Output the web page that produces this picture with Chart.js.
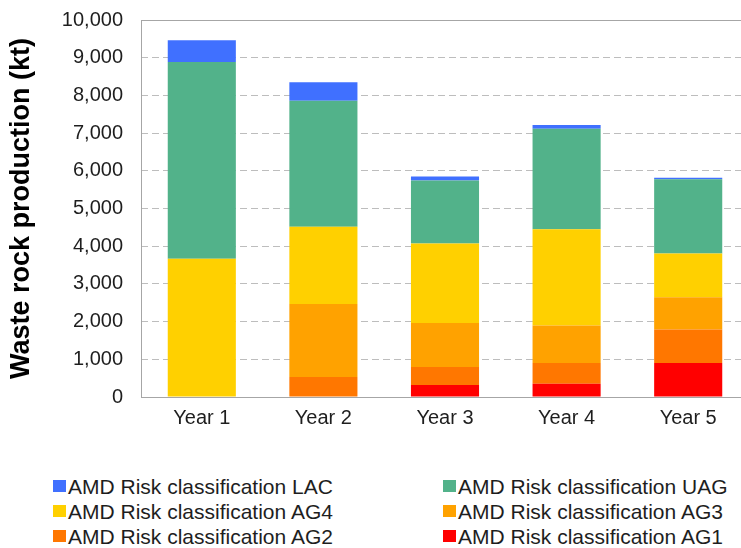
<!DOCTYPE html>
<html>
<head>
<meta charset="utf-8">
<script src="https://cdn.jsdelivr.net/npm/chart.js@4"></script>
<style>
  html, body { margin: 0; padding: 0; background: #fff; overflow: hidden; width: 741px; height: 548px; }
  #wrap { position: absolute; left: 0; top: -10px; width: 760px; height: 450px; }
  #legend { position: absolute; left: 0; top: 474px; width: 741px; font-family: "Liberation Sans", Arial, sans-serif; font-size: 21px; color: #1e1e1e; }
  .item { position: absolute; height: 25px; line-height: 25px; white-space: nowrap; }
  .sw { display: inline-block; width: 13px; height: 12px; margin-right: 2px; vertical-align: middle; position: relative; top: -2px; }
</style>
</head>
<body>
<div id="wrap"><canvas id="c"></canvas></div>
<div id="legend"></div>
<script>
const categories = ['Year 1', 'Year 2', 'Year 3', 'Year 4', 'Year 5'];
const lac = [575, 487, 107, 98, 36];
const uag = [5215, 3345, 1673, 2663, 1973];
const ag4 = [3670, 2045, 2106, 2557, 1159];
const ag3 = [0, 1940, 1168, 991, 858];
const ag2 = [0, 530, 476, 549, 885];
const ag1 = [0, 0, 320, 354, 903];
const yMin = 0, yMax = 10000, yStep = 1000;

const seriesNames = ['AMD Risk classification AG1', 'AMD Risk classification AG2', 'AMD Risk classification AG3',
  'AMD Risk classification AG4', 'AMD Risk classification UAG', 'AMD Risk classification LAC'];
const seriesData = [ag1, ag2, ag3, ag4, uag, lac];
const seriesColors = ['#ff0000', '#ff7700', '#ffa200', '#ffd000', '#52b28a', '#4070ff'];

const datasets = seriesNames.map((n, i) => ({
  label: n, data: seriesData[i], backgroundColor: seriesColors[i],
  borderWidth: 0, categoryPercentage: 1, barPercentage: 0.56
}));

const frame = {
  id: 'frame',
  afterDatasetsDraw(chart) {
    const a = chart.chartArea, ctx = chart.ctx;
    ctx.save();
    ctx.strokeStyle = '#a6a6a6';
    ctx.lineWidth = 1;
    ctx.setLineDash([]);
    ctx.strokeRect(Math.round(a.left) + 0.5, Math.round(a.top) + 0.5, Math.round(a.right - a.left), Math.round(a.bottom - a.top));
    ctx.restore();
  }
};

const font = "'Liberation Sans', Arial, sans-serif";
new Chart(document.getElementById('c'), {
  type: 'bar',
  data: { labels: categories, datasets },
  plugins: [frame],
  options: {
    responsive: true, maintainAspectRatio: false, animation: false,
    layout: { padding: { left: 0, right: 11, top: 8, bottom: 0 } },
    plugins: { legend: { display: false }, tooltip: { enabled: false } },
    scales: {
      x: {
        stacked: true,
        grid: { display: false, drawTicks: false },
        border: { display: false },
        ticks: { color: '#1e1e1e', font: { family: font, size: 20 }, padding: 9 },
        afterFit: s => { s.height = 43; }
      },
      y: {
        stacked: true, min: yMin, max: yMax,
        grid: { color: '#bdbdbd', drawTicks: false, lineWidth: 1 },
        border: { display: false, dash: [7, 4] },
        ticks: { stepSize: yStep, color: '#1e1e1e', font: { family: font, size: 20 }, padding: 18 },
        title: { display: true, text: 'Waste rock production (kt)', color: '#000', font: { family: font, size: 27, weight: 'bold' }, padding: { top: 5, bottom: 0 } },
        afterFit: s => { s.width = 141; }
      }
    }
  }
});

const legend = document.getElementById('legend');
const order = [5, 4, 3, 2, 1, 0];
order.forEach((idx, k) => {
  const col = k % 2, row = Math.floor(k / 2);
  const d = document.createElement('div');
  d.className = 'item';
  d.style.left = (col === 0 ? 53 : 443) + 'px';
  d.style.top = (row * 25) + 'px';
  const sw = document.createElement('span');
  sw.className = 'sw';
  sw.style.background = seriesColors[idx];
  d.appendChild(sw);
  d.appendChild(document.createTextNode(seriesNames[idx]));
  legend.appendChild(d);
});
</script>
</body>
</html>
